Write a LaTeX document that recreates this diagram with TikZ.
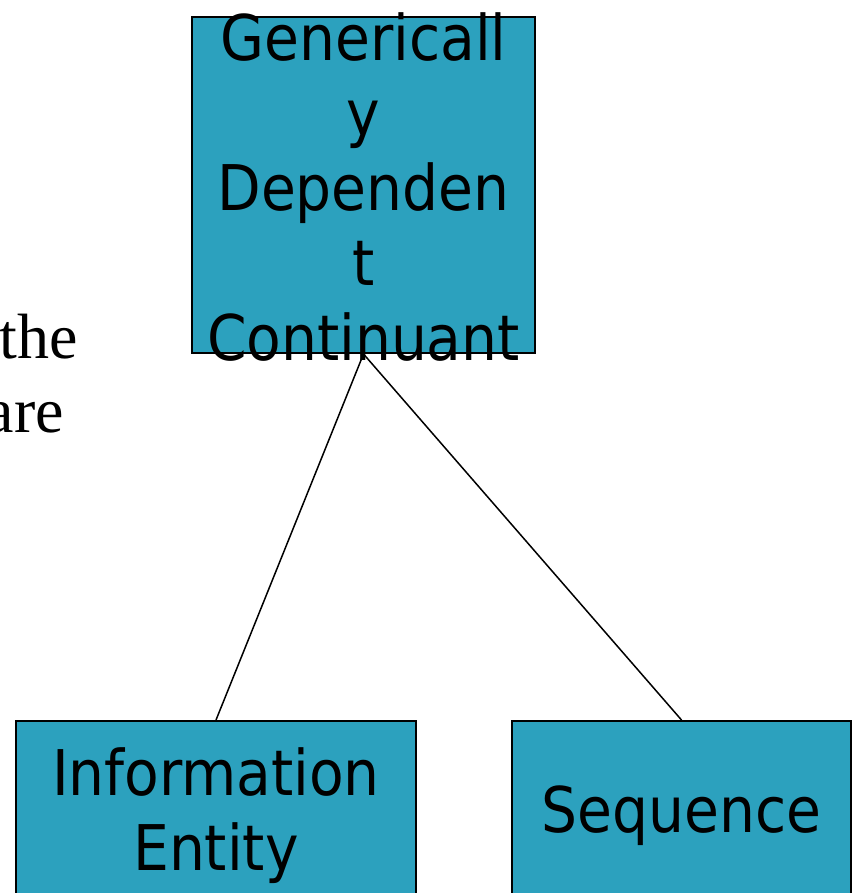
\documentclass[tikz,border=0pt]{standalone}
\usepackage{fontspec}
\setmainfont{Liberation Serif}
\newfontfamily\boxfont{DejaVu Sans Condensed}
\definecolor{boxteal}{RGB}{44,161,190}
\begin{document}
\begin{tikzpicture}[x=1pt,y=-1pt,
  boxstyle/.style={draw=black, line width=2pt, fill=boxteal, inner sep=0pt},
  boxtext/.style={font=\boxfont\fontsize{63}{75}\selectfont, align=center, inner sep=0pt},
  serifword/.style={font=\fontsize{64}{64}\selectfont, inner sep=0pt, anchor=base east},
  link/.style={line width=1.5pt}]
\clip (0,0) rectangle (854,893);
\useasboundingbox (0,0) rectangle (854,893);
\node[serifword] (the) at (78,358) {the};
\node[serifword] (are) at (64,432) {are};
\node[boxstyle, minimum width=343pt, minimum height=336pt] (gdc) at (363.5,185) {};
\node[boxtext] (gdct) at (363.5,187) {Genericall\\y\\Dependen\\t\\Continuant};
\node[boxstyle, boxtext, minimum width=400pt, minimum height=190pt] (ie) at (216,816) {Information\\Entity};
\node[boxstyle, boxtext, minimum width=339pt, minimum height=190pt] (seq) at (681.5,816) {Sequence};
\draw[link] (gdc.south) -- (ie.north);
\draw[link] (gdc.south) -- (seq.north);
\end{tikzpicture}
\end{document}
